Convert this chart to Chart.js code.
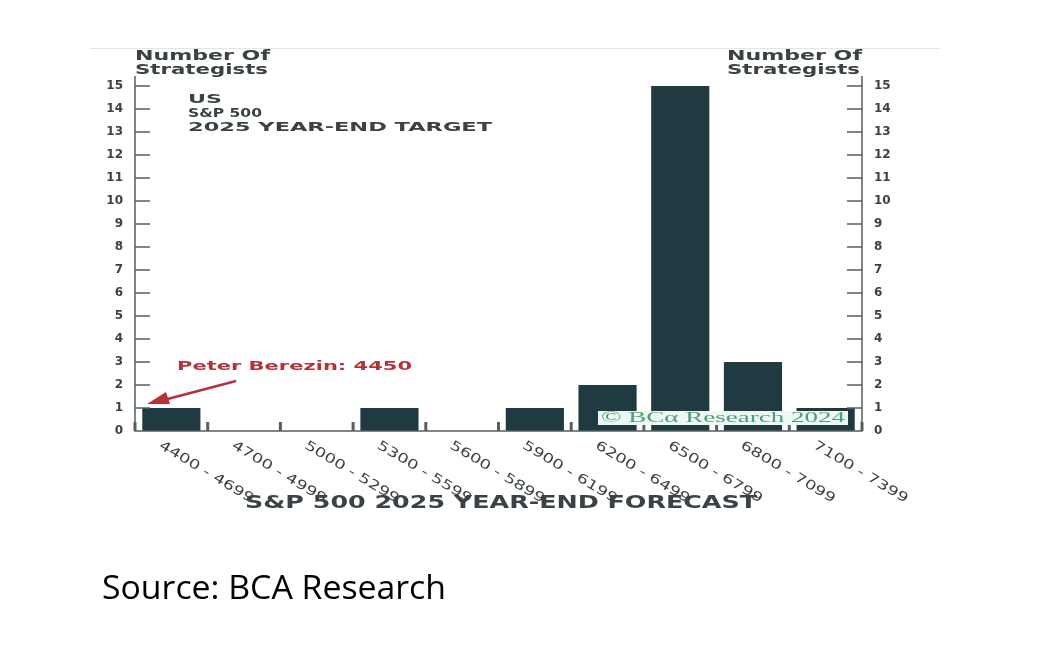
<!DOCTYPE html>
<html><head><meta charset="utf-8">
<script src="https://cdn.jsdelivr.net/npm/chart.js@4"></script>
<style>html,body{margin:0;padding:0;background:#fff}#w{width:1042px;height:650px;position:relative}</style>
</head><body><div id="w"><canvas id="c"></canvas></div>
<script>
const categories = ["4400 - 4699","4700 - 4999","5000 - 5299","5300 - 5599","5600 - 5899","5900 - 6199","6200 - 6499","6500 - 6799","6800 - 7099","7100 - 7399"];
const strategists = [1,0,0,1,0,1,2,15,3,1];
const yTicks = [0,1,2,3,4,5,6,7,8,9,10,11,12,13,14,15];
const DARK = '#1f3a40', TXT = '#3a4245', FONT = '"DejaVu Sans", sans-serif';

function fit(c, t, x, y, w){
  const m = c.measureText(t).width;
  c.save(); c.translate(x,y); c.scale(w/m,1); c.fillText(t,0,0); c.restore();
}

const deco = {
  id:'deco',
  afterDraw(ch){
    const c = ch.ctx, a = ch.chartArea, x = ch.scales.x, y = ch.scales.y;
    c.save();
    c.strokeStyle='#e4e4e4'; c.lineWidth=1;
    c.beginPath(); c.moveTo(90,48.5); c.lineTo(940,48.5); c.stroke();
    c.strokeStyle='#55605f'; c.lineWidth=1.5;
    c.beginPath(); c.moveTo(a.left,76); c.lineTo(a.left,a.bottom); c.lineTo(a.right,a.bottom); c.lineTo(a.right,76); c.stroke();
    c.font='bold 12px '+FONT; c.fillStyle=TXT; c.textBaseline='middle';
    yTicks.forEach(v=>{
      const py = y.getPixelForValue(v);
      if(v>0){ c.beginPath(); c.moveTo(a.left,py); c.lineTo(a.left+15,py); c.moveTo(a.right,py); c.lineTo(a.right-15,py); c.stroke(); }
      c.textAlign='right'; c.fillText(String(v), a.left-12, py);
      c.textAlign='left'; c.fillText(String(v), a.right+12, py);
    });
    c.textAlign='left';
    categories.forEach((lab,i)=>{
      const cx = x.getPixelForValue(i), half = (x.getPixelForValue(1)-x.getPixelForValue(0))/2;
      c.fillStyle='#55605f'; c.fillRect(cx-half-1.5, a.bottom-9, 3, 9);
      c.save(); c.translate(cx-8, a.bottom+8); c.rotate(31*Math.PI/180);
      c.fillStyle=TXT; c.font='13px '+FONT; c.textBaseline='top';
      fit(c,lab,0,0,108); c.restore();
    });
    c.fillStyle='#55605f'; c.fillRect(a.right-1.5, a.bottom-9, 3, 9);
    c.fillStyle=TXT; c.textBaseline='alphabetic'; c.textAlign='left';
    c.font='bold 14px '+FONT;
    fit(c,'Number Of',135,60,135); fit(c,'Strategists',135,74,133);
    fit(c,'Number Of',727,60,135); fit(c,'Strategists',727,74,133);
    c.font='bold 13px '+FONT;
    fit(c,'US',188,103,34); fit(c,'S&P 500',188,117,74); fit(c,'2025 YEAR-END TARGET',188,131,304);
    c.font='bold 17px '+FONT;
    fit(c,'S&P 500 2025 YEAR-END FORECAST',245,508,512);
    c.fillStyle='#b5323a'; c.font='bold 13px '+FONT;
    fit(c,'Peter Berezin: 4450',177,370,235);
    c.strokeStyle='#b5323a'; c.lineWidth=2.5;
    c.beginPath(); c.moveTo(236,381); c.lineTo(160,401); c.stroke();
    c.beginPath(); c.moveTo(147,404); c.lineTo(166,392); c.lineTo(170,404); c.closePath(); c.fill();
    c.fillStyle='#eef7f2'; c.fillRect(598,411,250,14);
    c.fillStyle='#4a9e7a'; c.font='14px "Liberation Serif", serif'; c.textBaseline='middle';
    fit(c,'© BCα Research 2024',601,418,244);
    c.fillStyle='#000'; c.font='32px "Open Sans", "Liberation Sans", sans-serif'; c.textBaseline='alphabetic';
    fit(c,'Source: BCA Research',102,599,344);
    c.restore();
  }
};

new Chart(document.getElementById('c'),{
  type:'bar',
  data:{labels:categories,datasets:[{data:strategists,backgroundColor:DARK,barPercentage:0.8,categoryPercentage:1}]},
  options:{
    responsive:true,maintainAspectRatio:false,animation:false,devicePixelRatio:1,
    layout:{padding:{left:135,right:180,top:86,bottom:219}},
    plugins:{legend:{display:false},tooltip:{enabled:false}},
    scales:{
      x:{display:false,offset:true,grid:{display:false}},
      y:{display:false,min:0,max:15}
    }
  },
  plugins:[deco]
});
</script></body></html>
